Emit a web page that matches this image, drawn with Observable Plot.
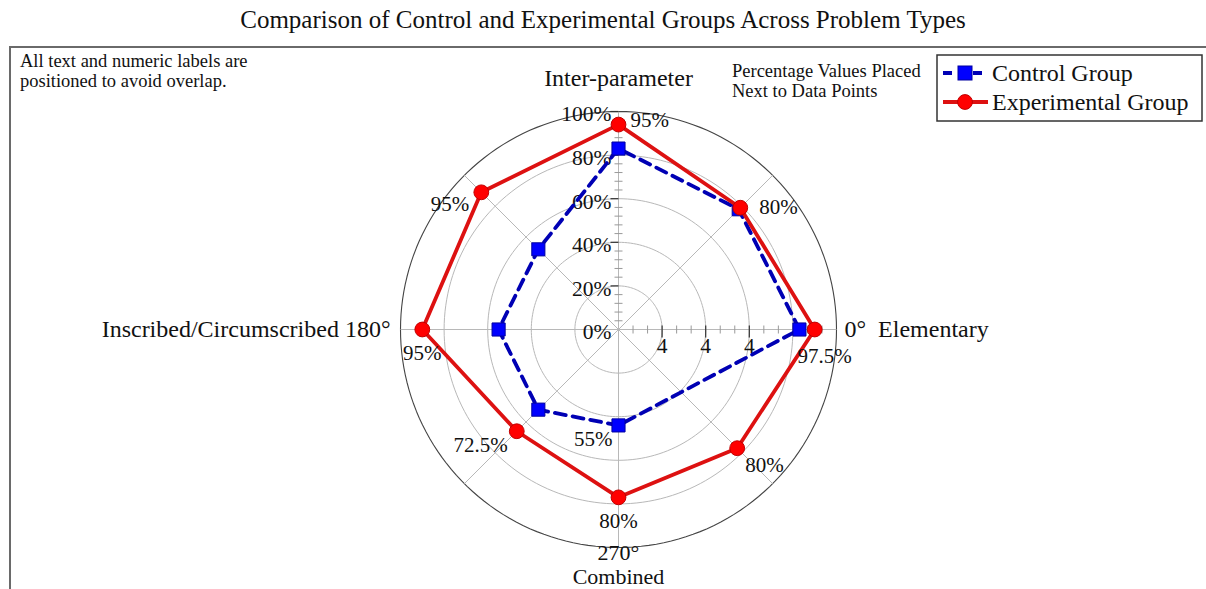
<!DOCTYPE html>
<html>
<head>
<meta charset="utf-8">
<script src="https://cdn.jsdelivr.net/npm/d3@7"></script>
<script src="https://cdn.jsdelivr.net/npm/@observablehq/plot@0.6"></script>
<style>
  html, body { margin: 0; padding: 0; background: #fff; }
  body { width: 1206px; height: 589px; overflow: hidden; position: relative; font-family: "Liberation Serif", serif; color: #111; }
  #title { position: absolute; left: 0; top: 0; width: 1206px; height: 40px; line-height: 40px; text-align: center; font-size: 25px; }
  #chart { position: absolute; left: 0; top: 46px; }
  #frame { position: absolute; left: 9px; top: 46px; width: 1400px; height: 800px; border-left: 2px solid #6a6a6a; border-top: 2px solid #6a6a6a; pointer-events: none; }
  .note { position: absolute; font-size: 18.5px; line-height: 19.5px; white-space: nowrap; }
  #noteLeft { left: 20px; top: 52px; }
  #noteRight { left: 732px; top: 62px; }
  #legend { position: absolute; left: 936px; top: 54px; }
</style>
</head>
<body>
<div id="title"></div>
<div id="chart"></div>
<div id="frame"></div>
<div class="note" id="noteLeft"></div>
<div class="note" id="noteRight"></div>
<div id="legend"></div>
<script>
// ---------------- data ----------------
const titleText = "Comparison of Control and Experimental Groups Across Problem Types";
const noteLeftLines = ["All text and numeric labels are", "positioned to avoid overlap."];
const noteRightLines = ["Percentage Values Placed", "Next to Data Points"];
const seriesNames = ["Control Group", "Experimental Group"];

const angles = [0, 45, 90, 135, 180, 225, 270, 315];
const categoryLabels = ["Elementary", "", "Inter-parameter", "", "Inscribed/Circumscribed", "", "Combined", ""];
const angleLabels = ["0°", "", "", "", "180°", "", "270°", ""];
// plotted radius (percent of outer ring)
const controlValues = [83, 78, 83, 52, 55, 52, 44, null];
const experimentalValues = [90, 79, 94, 89, 90, 66, 77, 77];
// printed value labels
const controlLabels = [null, null, null, null, null, null, "55%", null];
const experimentalLabels = ["97.5%", "80%", "95%", "95%", "95%", "72.5%", "80%", "80%"];

const ringValues = [20, 40, 60, 80, 100];
const radialTickValues = [0, 20, 40, 60, 80, 100];
const radialTickLabels = ["0%", "20%", "40%", "60%", "80%", "100%"];
const axisTickValues = [20, 40, 60];
const axisTickLabels = ["4", "4", "4"];

// ---------------- layout ----------------
const W = 1206, H = 543;
const cx = 618, cy = 283;      // centre of the polar plot in svg pixels
const k = 2.18;                // pixels per percent
const rad = a => a * Math.PI / 180;
const pol = (v, a) => ({x: v * Math.cos(rad(a)), y: v * Math.sin(rad(a))});
const px = p => p / k;         // pixel offset -> data units

// label placements (pixels): [dx, dy, anchor]
const expLabelPos = [[10, 27, "middle"], [19, 0, "start"], [12, -4, "start"], [-12, 12, "end"],
                     [0, 24, "middle"], [-9, 14, "end"], [0, 24, "middle"], [8, 17, "start"]];
const ctlLabelPos = [null, null, null, null, null, null, [-6, 14, "end"], null];
// full axis label text per direction with its placement
const catText = i => {
  if (angles[i] === 0) return angleLabels[i] + "\u00a0\u00a0" + categoryLabels[i];
  if (angles[i] === 180) return categoryLabels[i] + " " + angleLabels[i];
  return categoryLabels[i];
};
const catLabelPos = [[8, 0, "start"], null, [0, -33, "middle"], null, [-10, 0, "end"], null, [0, 29, "middle"], null];

// ---------------- derived geometry ----------------
const rings = ringValues.flatMap(r => d3.range(0, 361, 2).map(a => ({...pol(r, a), r})));
const spokes = angles.map(a => { const p = pol(100, a); return {x1: 0, y1: 0, x2: p.x, y2: p.y}; });

const vTicks = d3.range(1, 26).map(i => i * 4);
const vMinor = vTicks.filter(v => v % 20 !== 0).map(v => ({x1: px(-4), x2: px(4), y1: v, y2: v}));
const vMajor = vTicks.filter(v => v % 20 === 0).map(v => ({x1: px(-8), x2: px(0), y1: v, y2: v}));
const hTicks = d3.range(1, 15).map(i => i * 20 / 3);
const hMinor = hTicks.filter(v => !axisTickValues.some(t => Math.abs(t - v) < 0.01)).map(v => ({x1: v, x2: v, y1: px(-4), y2: px(4)}));
const hMajor = axisTickValues.map(v => ({x1: v, x2: v, y1: px(-8), y2: px(4)}));

const ctlPts = angles.map((a, i) => controlValues[i] == null ? null : ({...pol(controlValues[i], a), i})).filter(d => d);
const expPts = angles.map((a, i) => ({...pol(experimentalValues[i], a), i}));

const valueLabels = [];
expPts.forEach(p => { const [dx, dy, anchor] = expLabelPos[p.i]; valueLabels.push({x: p.x + px(dx), y: p.y - px(dy), text: experimentalLabels[p.i], anchor}); });
ctlPts.forEach(p => { if (controlLabels[p.i] && ctlLabelPos[p.i]) { const [dx, dy, anchor] = ctlLabelPos[p.i]; valueLabels.push({x: p.x + px(dx), y: p.y - px(dy), text: controlLabels[p.i], anchor}); } });

const catTexts = angles.map((a, i) => {
  if (!categoryLabels[i]) return null;
  const p = pol(100, a); const [dx, dy, anchor] = catLabelPos[i];
  return {x: p.x + px(dx), y: p.y - px(dy), text: catText(i), anchor, size: a === 270 ? 22 : 24};
}).filter(d => d);
// the 270° angle label sits between the ring and the category name
const angleTexts = angles.map((a, i) => (a === 270 && angleLabels[i]) ? (() => { const p = pol(100, a); return {x: p.x, y: p.y - px(5), text: angleLabels[i]}; })() : null).filter(d => d);

const rLabels = radialTickValues.map((v, i) => ({x: px(-7), y: v - px(3), text: radialTickLabels[i]}));
const aLabels = axisTickValues.map((v, i) => ({x: v, y: px(-17), text: axisTickLabels[i]}));

const FONT = "Liberation Serif";
const textMarks = anchor => Plot.text(valueLabels.filter(d => d.anchor === anchor), {x: "x", y: "y", text: "text", textAnchor: anchor, fontSize: 21, fontFamily: FONT, fill: "#111"});

const chart = Plot.plot({
  width: W, height: H,
  marginLeft: 0, marginRight: 0, marginTop: 0, marginBottom: 0,
  x: {domain: [-cx / k, (W - cx) / k], axis: null},
  y: {domain: [-(H - cy) / k, cy / k], axis: null},
  style: {fontFamily: FONT, background: "transparent"},
  marks: [
    Plot.line(rings.filter(d => d.r < 100), {x: "x", y: "y", z: "r", stroke: "#b8b8b8", strokeWidth: 1}),
    Plot.line(rings.filter(d => d.r === 100), {x: "x", y: "y", z: "r", stroke: "#444", strokeWidth: 1.1}),
    Plot.link(spokes, {x1: "x1", y1: "y1", x2: "x2", y2: "y2", stroke: "#b8b8b8", strokeWidth: 1}),
    Plot.link(vMinor, {x1: "x1", y1: "y1", x2: "x2", y2: "y2", stroke: "#999", strokeWidth: 1}),
    Plot.link(vMajor, {x1: "x1", y1: "y1", x2: "x2", y2: "y2", stroke: "#333", strokeWidth: 1.2}),
    Plot.link(hMinor, {x1: "x1", y1: "y1", x2: "x2", y2: "y2", stroke: "#999", strokeWidth: 1}),
    Plot.link(hMajor, {x1: "x1", y1: "y1", x2: "x2", y2: "y2", stroke: "#333", strokeWidth: 1.2}),
    Plot.text(rLabels, {x: "x", y: "y", text: "text", textAnchor: "end", fontSize: 21.5, fontFamily: FONT, fill: "#111"}),
    Plot.text(aLabels, {x: "x", y: "y", text: "text", textAnchor: "middle", fontSize: 21.5, fontFamily: FONT, fill: "#111"}),
    // control group
    Plot.line(ctlPts, {x: "x", y: "y", curve: "linear-closed", stroke: "#0000b4", strokeWidth: 3.8, strokeDasharray: "11,7"}),
    Plot.dot(ctlPts, {x: "x", y: "y", symbol: "square", r: 7.4, fill: "#0000ff", stroke: "#0000a0", strokeWidth: 1}),
    // experimental group
    Plot.line(expPts, {x: "x", y: "y", curve: "linear-closed", stroke: "#dd1111", strokeWidth: 3.8}),
    Plot.dot(expPts, {x: "x", y: "y", r: 7.4, fill: "#ff0000", stroke: "#c00000", strokeWidth: 1}),
    textMarks("start"), textMarks("middle"), textMarks("end"),
    ...["start", "middle", "end"].map(anchor => Plot.text(catTexts.filter(d => d.anchor === anchor), {
      x: "x", y: "y", text: "text", textAnchor: anchor, fontSize: d => d.size, fontFamily: FONT, fill: "#111"
    })),
    Plot.text(angleTexts, {x: "x", y: "y", text: "text", textAnchor: "middle", fontSize: 22, fontFamily: FONT, fill: "#111"})
  ]
});
document.getElementById("chart").appendChild(chart);

document.getElementById("title").textContent = titleText;
document.getElementById("noteLeft").innerHTML = noteLeftLines.join("<br>");
document.getElementById("noteRight").innerHTML = noteRightLines.join("<br>");

// ---------------- legend ----------------
const lg = d3.select("#legend").append("svg").attr("width", 268).attr("height", 70);
lg.append("rect").attr("x", 1).attr("y", 1).attr("width", 265).attr("height", 66).attr("fill", "#fff").attr("stroke", "#333").attr("stroke-width", 1.5);
const rows = [
  {name: seriesNames[0], y: 19, color: "#0000b4", dash: "9,6", sym: "square"},
  {name: seriesNames[1], y: 48, color: "#dd1111", dash: null, sym: "circle"}
];
rows.forEach(r => {
  lg.append("line").attr("x1", 7).attr("x2", 52).attr("y1", r.y).attr("y2", r.y)
    .attr("stroke", r.color).attr("stroke-width", 3.8).attr("stroke-dasharray", r.dash);
  if (r.sym === "square") lg.append("rect").attr("x", 22).attr("y", r.y - 7).attr("width", 14).attr("height", 14).attr("fill", "#0000ff").attr("stroke", "#0000a0");
  else lg.append("circle").attr("cx", 29).attr("cy", r.y).attr("r", 7.4).attr("fill", "#ff0000").attr("stroke", "#c00000");
  lg.append("text").attr("x", 56).attr("y", r.y).attr("dy", "0.35em").attr("font-size", 24).attr("font-family", FONT).attr("fill", "#111").text(r.name);
});
</script>
</body>
</html>
